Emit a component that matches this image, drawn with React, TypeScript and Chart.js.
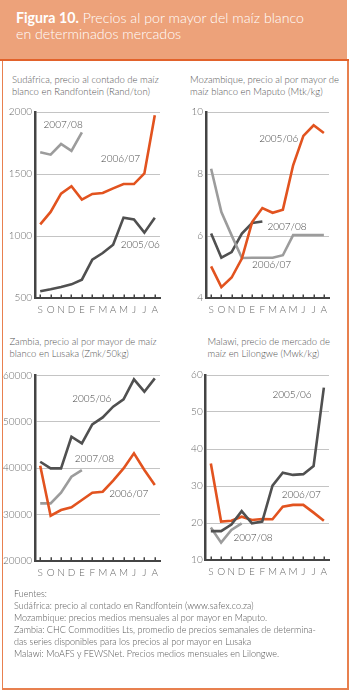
import React, { useEffect, useRef } from "react";
import { Chart, registerables } from "chart.js";
Chart.register(...registerables);

const FONT = "Lato";
const WEIGHT = 300;

const months = ["S", "O", "N", "D", "E", "F", "M", "A", "M", "J", "J", "A"];

// Sudáfrica (Rand/ton)
const saTicks = [500, 1000, 1500, 2000];
const sa0506 = [554, 570, 589, 610, 648, 809, 863, 930, 1148, 1134, 1027, 1148];
const sa0607 = [1094, 1194, 1341, 1401, 1293, 1339, 1347, 1384, 1419, 1419, 1505, 1973];
const sa0708 = [1675, 1656, 1742, 1686, 1836];

// Mozambique (Mtk/kg)
const mzTicks = [4, 6, 8, 10];
const mz0506 = [5.02, 4.35, 4.66, 5.27, 6.45, 6.9, 6.75, 6.85, 8.28, 9.23, 9.57, 9.32];
const mz0607 = [8.17, 6.77, 6.02, 5.29, 5.3, 5.3, 5.3, 5.38, 6.03, 6.03, 6.03, 6.03];
const mz0708 = [6.08, 5.3, 5.48, 6.08, 6.42, 6.47];

// Zambia (Zmk/50kg)
const zmTicks = [20000, 30000, 40000, 50000, 60000];
const zm0506 = [41400, 39960, 39960, 46800, 45370, 49480, 50990, 53300, 54880, 59200, 56540, 59420];
const zm0607 = [40540, 29730, 30960, 31530, 33120, 34700, 34920, 37300, 39960, 43210, 39600, 36360];
const zm0708 = [32400, 32400, 34700, 38160, 39600];

// Malawi (Mwk/kg)
const mwTicks = [10, 20, 30, 40, 50, 60];
const mw0506 = [17.8, 17.8, 19.6, 23.2, 19.9, 20.4, 30.1, 33.6, 33.0, 33.2, 35.4, 56.6];
const mw0607 = [36.1, 20.4, 20.6, 21.7, 20.8, 21.1, 21.0, 24.4, 24.9, 24.9, 22.8, 20.6];
const mw0708 = [18.8, 14.7, 18.1, 19.9];

const ORANGE = "#e2531f";
const DARK = "#505050";
const LIGHT = "#9c9c9c";
const AXIS = "#444444";
const GRID = "#c4c4c4";
const TEXT = "#555555";

const seriesLabelPlugin = {
  id: "seriesLabels",
  afterDraw(chart: any, _args: any, opts: any) {
    const { ctx, chartArea, scales } = chart;
    const x = scales.x;
    const y = scales.y;
    ctx.save();
    ctx.strokeStyle = AXIS;
    ctx.lineWidth = 1.5;
    ctx.beginPath();
    for (let i = 0; i < months.length; i++) {
      const px = Math.round(x.getPixelForTick(i)) + 0.25;
      ctx.moveTo(px, chartArea.bottom);
      ctx.lineTo(px, chartArea.bottom - 3.5);
    }
    ctx.stroke();
    ctx.fillStyle = "#444";
    ctx.font = `${WEIGHT} 10px ${FONT}`;
    ctx.textAlign = "center";
    ctx.textBaseline = "middle";
    for (const a of opts.items || []) {
      ctx.fillText(a.text, x.getPixelForValue(a.x), y.getPixelForValue(a.y));
    }
    ctx.restore();
  },
};

type Panel = {
  left: number;
  top: number;
  width: number;
  height: number;
  padding: { left: number; top: number; right: number; bottom: number };
  yWidth: number;
  ticks: number[];
  series: { data: number[]; color: string }[];
  items: { text: string; x: number; y: number }[];
};

function ChartPanel(p: Panel) {
  const ref = useRef<HTMLCanvasElement>(null);
  useEffect(() => {
    if (!ref.current) return;
    const min = p.ticks[0];
    const max = p.ticks[p.ticks.length - 1];
    const step = p.ticks[1] - p.ticks[0];
    const chart = new Chart(ref.current, {
      type: "line",
      data: {
        labels: months,
        datasets: p.series.map((s) => ({
          data: s.data,
          borderColor: s.color,
          borderWidth: 2.6,
          pointRadius: 0,
          tension: 0,
          fill: false,
          borderJoinStyle: "miter" as const,
        })),
      },
      options: {
        responsive: false,
        animation: false,
        events: [],
        layout: { padding: p.padding },
        plugins: {
          legend: { display: false },
          tooltip: { enabled: false },
          title: { display: false },
          seriesLabels: { items: p.items },
        } as any,
        scales: {
          x: {
            type: "category",
            offset: true,
            grid: { display: false, drawTicks: false },
            border: { display: true, color: AXIS, width: 2 },
            ticks: {
              color: "#666",
              font: { family: FONT, size: 10, weight: WEIGHT as any },
              padding: 6,
              maxRotation: 0,
              autoSkip: false,
            },
            afterFit: (s: any) => {
              s.height = 24;
            },
          },
          y: {
            min,
            max,
            grid: { color: GRID, lineWidth: 1, drawTicks: false },
            border: { display: true, color: AXIS, width: 2.5 },
            ticks: {
              stepSize: step,
              color: "#666",
              font: { family: FONT, size: 10, weight: WEIGHT as any },
              padding: 3,
              callback: (v: any) => String(v),
            },
            afterFit: (s: any) => {
              s.width = p.yWidth;
            },
          },
        },
      },
      plugins: [seriesLabelPlugin],
    });
    return () => chart.destroy();
  }, []);
  return (
    <canvas
      ref={ref}
      width={p.width}
      height={p.height}
      style={{ position: "absolute", left: p.left, top: p.top, width: p.width, height: p.height }}
    />
  );
}

const titleStyle: React.CSSProperties = {
  position: "absolute",
  fontFamily: FONT,
  fontWeight: WEIGHT,
  fontSize: 9.5,
  lineHeight: "12px",
  color: TEXT,
  whiteSpace: "nowrap",
};

export default function App() {
  return (
    <div
      style={{
        position: "absolute",
        left: 0,
        top: 0,
        width: 350,
        height: 690,
        background: "#fff",
        overflow: "hidden",
        fontFamily: FONT,
      }}
    >
      <div style={{ position: "absolute", left: 0, top: 0, width: 347, height: 59, background: "#eda27a" }} />
      <div style={{ position: "absolute", left: 0, top: 59, width: 349, height: 2, background: "#e2622b" }} />
      <div style={{ position: "absolute", left: 1.5, top: 61, width: 1.5, height: 628, background: "#e8804f" }} />
      <div style={{ position: "absolute", left: 347, top: 61, width: 2, height: 629, background: "#e8804f" }} />
      <div style={{ position: "absolute", left: 1.5, top: 688, width: 347.5, height: 2, background: "#e8804f" }} />
      <div
        style={{
          position: "absolute",
          left: 16,
          top: 10,
          color: "#fff",
          fontFamily: FONT,
          fontWeight: WEIGHT,
          fontSize: 14.2,
          lineHeight: "16px",
          whiteSpace: "nowrap",
        }}
      >
        <b style={{ fontWeight: 700 }}>Figura 10.</b> Precios al por mayor del maíz blanco
        <br />
        en determinados mercados
      </div>

      <div style={{ ...titleStyle, left: 12, top: 73.5 }}>
        Sudáfrica, precio al contado de maíz
        <br />
        blanco en Randfontein (Rand/ton)
      </div>
      <div style={{ ...titleStyle, left: 190, top: 73.5 }}>
        Mozambique, precio al por mayor de
        <br />
        maíz blanco en Maputo (Mtk/kg)
      </div>
      <div style={{ ...titleStyle, left: 9.5, top: 336 }}>
        Zambia, precio al por mayor de maíz
        <br />
        blanco en Lusaka (Zmk/50kg)
      </div>
      <div style={{ ...titleStyle, left: 207.5, top: 336 }}>
        Malawi, precio de mercado de
        <br />
        maíz en Lilongwe (Mwk/kg)
      </div>

      <ChartPanel
        left={0}
        top={100}
        width={172}
        height={225}
        padding={{ left: 0, top: 12, right: 12, bottom: 3 }}
        yWidth={35}
        ticks={saTicks}
        series={[
          { data: sa0506, color: DARK },
          { data: sa0607, color: ORANGE },
          { data: sa0708, color: LIGHT },
        ]}
        items={[
          { text: "2007/08", x: 2.2, y: 1900 },
          { text: "2006/07", x: 7.7, y: 1624 },
          { text: "2005/06", x: 9.6, y: 930 },
        ]}
      />
      <ChartPanel
        left={172}
        top={100}
        width={175}
        height={225}
        padding={{ left: 0, top: 12, right: 18, bottom: 3 }}
        yWidth={34}
        ticks={mzTicks}
        series={[
          { data: mz0506, color: ORANGE },
          { data: mz0607, color: LIGHT },
          { data: mz0708, color: DARK },
        ]}
        items={[
          { text: "2005/06", x: 6.6, y: 9.14 },
          { text: "2007/08", x: 7.4, y: 6.29 },
          { text: "2006/07", x: 5.9, y: 5.08 },
        ]}
      />
      <ChartPanel
        left={0}
        top={365}
        width={172}
        height={225}
        padding={{ left: 0, top: 10.7, right: 12, bottom: 5.3 }}
        yWidth={35}
        ticks={zmTicks}
        series={[
          { data: zm0506, color: DARK },
          { data: zm0607, color: ORANGE },
          { data: zm0708, color: LIGHT },
        ]}
        items={[
          { text: "2005/06", x: 4.95, y: 55100 },
          { text: "2007/08", x: 5.2, y: 42000 },
          { text: "2006/07", x: 8.5, y: 34560 },
        ]}
      />
      <ChartPanel
        left={172}
        top={365}
        width={175}
        height={225}
        padding={{ left: 0, top: 10, right: 18, bottom: 6 }}
        yWidth={33.7}
        ticks={mwTicks}
        series={[
          { data: mw0506, color: DARK },
          { data: mw0607, color: ORANGE },
          { data: mw0708, color: LIGHT },
        ]}
        items={[
          { text: "2005/06", x: 7.9, y: 54.6 },
          { text: "2006/07", x: 8.8, y: 27.6 },
          { text: "2007/08", x: 4.1, y: 15.9 },
        ]}
      />

      <div
        style={{
          position: "absolute",
          left: 14,
          top: 588,
          fontFamily: FONT,
          fontWeight: WEIGHT,
          fontSize: 9,
          lineHeight: "12px",
          color: TEXT,
          whiteSpace: "nowrap",
        }}
      >
        Fuentes:
        <br />
        Sudáfrica: precio al contado en Randfontein (www.safex.co.za)
        <br />
        Mozambique: precios medios mensuales al por mayor en Maputo.
        <br />
        Zambia: CHC Commodities Lts, promedio de precios semanales de determina-
        <br />
        das series disponibles para los precios al por mayor en Lusaka
        <br />
        Malawi: MoAFS y FEWSNet. Precios medios mensuales en Lilongwe.
      </div>
    </div>
  );
}
